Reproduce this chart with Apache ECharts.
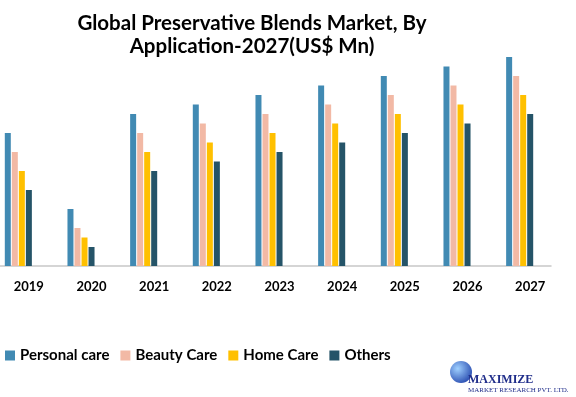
<!DOCTYPE html>
<html>
<head>
<meta charset="utf-8">
<script src="https://cdn.jsdelivr.net/npm/echarts@6/dist/echarts.min.js"></script>
<style>
  html, body { margin: 0; padding: 0; background: #fff; overflow: hidden; }
  /* chart shifted 13px left so the first category band starts off-canvas like the original */
  #main { width: 589px; height: 397px; margin-left: -13px; }
</style>
</head>
<body>
<div id="main"></div>
<script>
const years = ["2019", "2020", "2021", "2022", "2023", "2024", "2025", "2026", "2027"];
const personalCare = [7, 3, 8, 8.5, 9, 9.5, 10, 10.5, 11];
const beautyCare = [6, 2, 7, 7.5, 8, 8.5, 9, 9.5, 10];
const homeCare = [5, 1.5, 6, 6.5, 7, 7.5, 8, 8.5, 9];
const others = [4, 1, 5, 5.5, 6, 6.5, 7, 7.5, 8];

const colors = ["#418ab3", "#f2b9a5", "#ffc000", "#255468"];
const font = "Lato, 'Open Sans', sans-serif";
const dx = 13; // container offset

function bar(name, data) {
  return { name: name, type: "bar", data: data, barWidth: 6, barGap: "17%" };
}

const options = {
  animation: false,
  color: colors,
  title: {
    text: "Global Preservative Blends Market, By\nApplication-2027(US$ Mn)",
    left: 247 + dx,
    top: 7,
    textAlign: "center",
    textStyle: {
      fontFamily: font,
      fontSize: 20.5,
      fontWeight: "bold",
      color: "#000",
      lineHeight: 23
    }
  },
  legend: {
    left: dx,
    top: 343,
    icon: "rect",
    itemWidth: 10,
    itemHeight: 10,
    itemGap: 11,
    textStyle: { fontFamily: font, fontSize: 15, fontWeight: "bold", color: "#000" }
  },
  grid: { left: 0, right: 25, top: 57, bottom: 131 },
  xAxis: {
    type: "category",
    data: years,
    axisLine: { lineStyle: { color: "#c8c8c8", width: 1.5 } },
    axisTick: { show: false },
    axisLabel: {
      margin: 14,
      padding: [0, 0, 0, 21],
      fontFamily: font,
      fontSize: 13,
      fontWeight: "bold",
      color: "#000"
    }
  },
  yAxis: { type: "value", min: 0, max: 11, show: false, splitLine: { show: false } },
  series: [
    bar("Personal care", personalCare),
    bar("Beauty Care", beautyCare),
    bar("Home Care", homeCare),
    bar("Others", others)
  ],
  graphic: [
    {
      type: "circle",
      shape: { cx: 461 + dx, cy: 372, r: 11 },
      style: {
        fill: new echarts.graphic.RadialGradient(0.35, 0.35, 0.8, [
          { offset: 0, color: "#9fd0ff" },
          { offset: 1, color: "#1d3fa8" }
        ])
      }
    },
    {
      type: "text",
      left: 468 + dx,
      top: 374,
      style: { text: "MAXIMIZE", font: "bold 12px 'Liberation Serif', serif", fill: "#1f2d8a" }
    },
    {
      type: "text",
      left: 468 + dx,
      top: 387,
      style: { text: "MARKET RESEARCH PVT. LTD.", font: "7px 'Liberation Serif', serif", fill: "#1f2d8a" }
    }
  ]
};

var myChart = echarts.init(document.querySelector("#main"));
myChart.setOption(options);
window.onresize = function() {
  myChart.resize();
};
</script>
</body>
</html>
